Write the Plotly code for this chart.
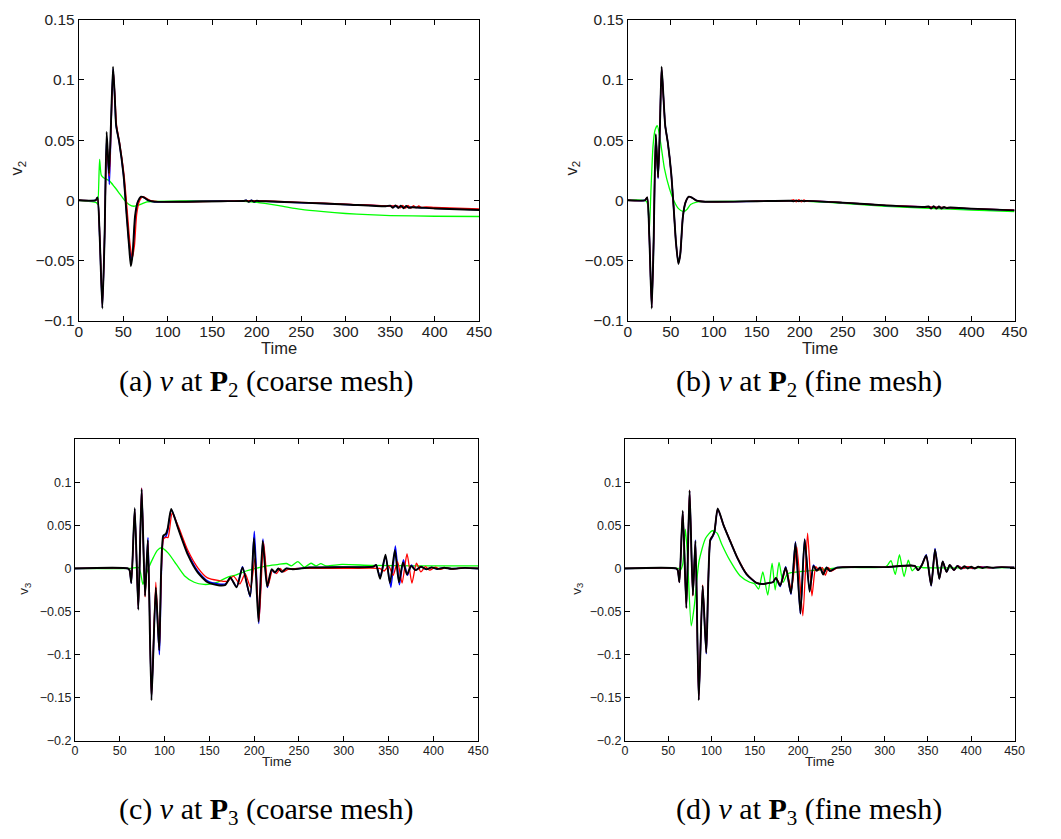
import plotly.graph_objects as go

# ---------------- data ----------------
# Panel (a): v at P2, coarse mesh
a_black_t = [0, 19, 21, 23.5, 26.5, 29, 31.3, 33.9, 36, 38.5, 40.5, 42, 45.5, 50.3, 53.9, 56.5, 58.5, 60.5, 63.1, 66, 70, 74, 78, 85, 120, 160, 185, 188, 191, 194, 197, 200, 203, 210, 250, 300, 345, 350, 353, 356, 359, 362, 365, 368, 371, 375, 400, 450]
a_black_v = [0, 0, 0.0024, -0.03, -0.09, -0.03, 0.0567, 0.0223, 0.06, 0.111, 0.085, 0.062, 0.048, 0.0209, -0.014, -0.038, -0.0548, -0.045, -0.014, -0.002, 0.003, 0.002, 0.0, -0.0012, -0.0012, -0.0008, -0.0006, -0.0002, -0.0012, -0.0002, -0.0012, -0.0004, -0.0008, -0.0008, -0.002, -0.0035, -0.005, -0.0045, -0.0062, -0.0044, -0.0064, -0.0046, -0.0066, -0.0048, -0.0062, -0.0058, -0.0068, -0.0081]
a_blue_t = [0, 19, 21, 23.5, 26.5, 29, 31.3, 34.3, 36, 38.5, 40.5, 42, 45.5, 50.3, 53.9, 56.5, 59, 61, 63.5, 66.5, 70.5, 74, 78, 85, 120, 160, 185, 188, 191, 194, 197, 200, 210, 250, 300, 350, 400, 450]
a_blue_v = [0, 0, 0.0022, -0.03, -0.089, -0.03, 0.052, 0.013, 0.055, 0.109, 0.085, 0.062, 0.048, 0.021, -0.012, -0.036, -0.05, -0.042, -0.014, -0.001, 0.003, 0.002, 0.0, -0.0012, -0.0012, -0.0006, -0.0006, 0.0, -0.0012, 0.0, -0.0012, -0.0004, -0.0008, -0.002, -0.0035, -0.005, -0.0066, -0.0078]
a_red_t = [0, 19, 21, 23.5, 26.5, 29, 31.5, 34.3, 36.2, 38.7, 40.7, 42.5, 46, 51, 55, 57.5, 60, 62.5, 65, 68, 72, 76, 80, 90, 150, 200, 250, 300, 350, 358, 361, 364, 367, 370, 373, 376, 379, 382, 385, 390, 400, 450]
a_red_v = [0, 0, 0.002, -0.028, -0.088, -0.03, 0.05, 0.02, 0.06, 0.108, 0.085, 0.062, 0.047, 0.02, -0.014, -0.036, -0.048, -0.038, -0.012, -0.001, 0.003, 0.0015, 0.0, -0.0012, -0.0009, -0.0004, -0.0018, -0.0032, -0.0048, -0.0046, -0.0064, -0.0042, -0.0066, -0.0042, -0.0066, -0.0044, -0.0064, -0.0048, -0.006, -0.0056, -0.006, -0.0072]
a_green_t = [0, 19.8, 21.2, 23.4, 25.2, 27.8, 34.4, 39.8, 45.3, 50.8, 56.4, 61.9, 69.2, 76.6, 85.8, 120, 180, 200, 225, 250, 275, 300, 325, 350, 400, 450]
a_green_v = [0, -0.002, -0.0035, 0.0339, 0.021, 0.0187, 0.0161, 0.0114, 0.006, 0.0005, -0.0035, -0.005, -0.0035, -0.0013, -0.001, -0.0006, -0.0008, -0.0018, -0.0045, -0.0076, -0.0095, -0.011, -0.012, -0.0127, -0.0133, -0.0135]

# Panel (b): v at P2, fine mesh
b_black_t = [0, 20, 22.5, 25, 27.8, 30, 32.5, 35.2, 37.3, 39.3, 41.5, 43.5, 46.5, 50.5, 53.5, 56, 58.8, 61, 64, 67, 71, 75, 80, 90, 150, 190, 193, 196, 199, 202, 205, 208, 250, 300, 345, 350, 353, 356, 359, 362, 365, 368, 371, 375, 400, 450]
b_black_v = [0, 0, 0.0024, -0.03, -0.09, -0.035, 0.055, 0.019, 0.06, 0.111, 0.085, 0.062, 0.048, 0.022, -0.008, -0.035, -0.053, -0.045, -0.014, -0.002, 0.003, 0.002, -0.0003, -0.0012, -0.0008, -0.0004, -0.0008, -0.0002, -0.0009, -0.0003, -0.0008, -0.0005, -0.002, -0.0043, -0.0056, -0.0052, -0.0068, -0.005, -0.007, -0.0052, -0.0068, -0.0055, -0.0065, -0.006, -0.007, -0.0084]
b_blue_t = [0, 20, 22.5, 25, 27.8, 30, 32.5, 35.2, 37.3, 39.3, 41.5, 43.5, 46.5, 50.5, 53.5, 56, 58.8, 61, 64, 67, 71, 75, 80, 90, 150, 200, 250, 300, 350, 400, 450]
b_blue_v = [0, 0, 0.0023, -0.03, -0.089, -0.035, 0.054, 0.018, 0.06, 0.11, 0.085, 0.062, 0.048, 0.022, -0.008, -0.035, -0.052, -0.045, -0.014, -0.002, 0.003, 0.002, -0.0003, -0.0012, -0.0008, -0.0005, -0.002, -0.0043, -0.0057, -0.007, -0.0083]
b_red_t = [0, 20, 22.5, 25, 27.8, 30, 32.5, 35.2, 37.3, 39.3, 41.5, 43.5, 46.5, 50.5, 53.5, 56, 58.8, 61, 64, 67, 71, 75, 80, 90, 150, 190, 193, 196, 199, 202, 205, 208, 212, 250, 300, 350, 400, 450]
b_red_v = [0, 0, 0.0023, -0.03, -0.089, -0.035, 0.054, 0.019, 0.06, 0.11, 0.085, 0.062, 0.048, 0.022, -0.008, -0.035, -0.052, -0.045, -0.014, -0.002, 0.003, 0.002, -0.0003, -0.0012, -0.0008, -0.0004, 0.0004, -0.0014, 0.0004, -0.0014, 0.0002, -0.001, -0.0006, -0.002, -0.0042, -0.0056, -0.0069, -0.0082]
b_green_t = [0, 21.7, 24.7, 27, 29.3, 31.5, 34.3, 38.1, 42.6, 48.3, 54, 59, 64.7, 69, 73, 80, 85, 150, 200, 250, 300, 350, 400, 450]
b_green_v = [0, -0.001, -0.028, 0.01, 0.045, 0.058, 0.062, 0.048, 0.0263, 0.01, -0.001, -0.007, -0.0095, -0.0075, -0.0035, -0.0015, -0.0012, -0.0008, -0.0008, -0.0025, -0.005, -0.0068, -0.0081, -0.0095]

# Panel (c): v at P3, coarse mesh
c_black_t = [0, 59, 61, 63, 66.8, 70.8, 74.5, 78.3, 81.4, 85.5, 90.3, 94.1, 98.6, 101.5, 103.5, 107.5, 115, 126, 137, 148, 160, 168, 173.5, 180.5, 187, 195.5, 199.8, 204.8, 209.5, 214.5, 219.5, 223.3, 227, 230.8, 236, 243, 262, 300, 333, 336, 340.5, 346.5, 351.5, 357, 361.5, 366, 370.5, 375, 380, 386, 392, 398, 404, 412, 420, 435, 450]
c_black_v = [0, 0, -0.002, -0.017, 0.070, -0.048, 0.092, -0.032, 0.033, -0.153, -0.022, -0.095, 0.038, 0.04, 0.046, 0.069, 0.047, 0.016, -0.0046, -0.016, -0.0195, -0.019, -0.0105, -0.022, 0.001, -0.032, 0.035, -0.062, 0.032, -0.021, -0.001, -0.0046, 0.0, -0.004, 0.0, -0.001, 0.001, 0.0015, 0.002, 0.004, -0.012, 0.016, -0.017, 0.021, -0.016, 0.007, -0.007, 0.003, -0.002, 0.002, -0.001, 0.0012, -0.0006, 0.0008, -0.0004, 0.0006, 0.0]
c_blue_t = [0, 59, 61, 63, 66.8, 70.8, 74.5, 78.3, 81.6, 85.5, 90.3, 94.3, 98.8, 101.5, 103.5, 107.7, 115, 126, 137, 148, 160, 168, 173.5, 180.5, 187, 195.5, 200.2, 205.2, 209.8, 214.8, 219.5, 223.3, 227, 230.8, 236, 243, 262, 300, 333, 336, 340.5, 346.5, 352.5, 357.5, 362, 366.5, 371, 375.5, 380, 386, 392, 398, 404, 412, 420, 435, 450]
c_blue_v = [0, 0, -0.002, -0.017, 0.069, -0.047, 0.093, -0.031, 0.036, -0.15, -0.024, -0.1, 0.035, 0.037, 0.043, 0.068, 0.048, 0.018, -0.003, -0.0145, -0.018, -0.018, -0.011, -0.021, 0.002, -0.033, 0.043, -0.064, 0.034, -0.022, -0.002, -0.005, 0.0, -0.004, 0.0, -0.0005, 0.001, 0.0015, 0.002, 0.004, -0.01, 0.014, -0.022, 0.026, -0.019, 0.01, -0.008, 0.004, -0.002, 0.002, -0.001, 0.0012, -0.0006, 0.0008, -0.0004, 0.0006, 0.0]
c_red_t = [0, 59, 61, 63, 66.8, 70.8, 74.5, 78.3, 81.6, 85.5, 90.3, 94.2, 98.8, 101.5, 104, 108.5, 115, 126, 137, 148, 160, 170, 177, 184, 190, 196, 201, 205.5, 210.5, 215.5, 220.5, 225, 229, 233, 238, 250, 300, 340, 345, 350, 355, 360, 365, 370.5, 376, 381, 386, 391, 396, 402, 408, 414, 420, 430, 450]
c_red_v = [0, 0, -0.002, -0.016, 0.068, -0.047, 0.093, -0.033, 0.03, -0.15, -0.016, -0.093, 0.034, 0.036, 0.036, 0.064, 0.05, 0.021, 0.001, -0.011, -0.014, -0.015, -0.009, -0.018, -0.006, -0.022, 0.012, -0.06, 0.03, -0.02, -0.002, -0.006, 0.0, -0.004, -0.001, 0.0, 0.0, 0.0, -0.003, 0.003, -0.008, 0.008, -0.017, 0.017, -0.017, 0.006, -0.004, 0.002, -0.002, 0.0015, -0.0012, 0.001, -0.0008, 0.0005, 0.0]
c_green_t = [0, 62, 71.2, 73.5, 75.9, 78.5, 82, 87.5, 92, 96.6, 103.9, 113, 122.2, 133.1, 144.1, 152, 160, 170, 180, 192, 205, 214, 226, 236, 241.5, 248.8, 256, 263.4, 268.9, 274.4, 280, 298, 330, 380, 450]
c_green_v = [0, 0, 0.001, -0.006, -0.0186, -0.01, 0.0, 0.0125, 0.021, 0.024, 0.018, 0.005, -0.0084, -0.016, -0.0186, -0.018, -0.0155, -0.0103, -0.0075, -0.0027, 0.0008, 0.003, 0.0045, 0.0057, 0.003, 0.008, 0.0015, 0.006, 0.003, 0.0055, 0.003, 0.0046, 0.0035, 0.003, 0.003]

# Panel (d): v at P3, fine mesh
d_black_t = [0, 59, 61, 63, 66.8, 71, 74.7, 78.5, 81.5, 85.3, 89.8, 94, 98.6, 101.5, 103.5, 107.2, 114, 121.6, 130, 140.4, 151.8, 160, 166.9, 171, 174.4, 179.3, 185.7, 191.8, 197, 202.7, 207.6, 213.3, 217.8, 221.6, 225.4, 229, 233, 236.7, 245, 300, 334.8, 338.6, 343, 348, 353.7, 358.2, 363.1, 367, 371.5, 375.2, 380, 384, 388, 392, 396, 400, 404, 408, 413, 418, 425, 435, 450]
d_black_v = [0, 0, -0.002, -0.016, 0.067, -0.046, 0.0905, -0.031, 0.032, -0.153, -0.02, -0.098, 0.033, 0.038, 0.043, 0.0696, 0.05, 0.0316, 0.012, -0.0065, -0.0167, -0.018, -0.0167, -0.016, -0.011, -0.02, 0.001, -0.029, 0.0297, -0.052, 0.0335, -0.027, 0.003, -0.0027, 0.001, -0.007, 0.001, -0.003, 0.001, 0.0015, 0.003, -0.002, 0.004, 0.0152, -0.0198, 0.022, -0.012, 0.008, -0.004, 0.004, -0.002, 0.003, -0.0005, 0.0025, 0.0, 0.002, 0.0, 0.002, 0.0005, 0.0018, 0.0008, 0.0015, 0.001]
d_blue_t = [0, 59, 61, 63, 66.8, 71, 74.7, 78.5, 81.5, 85.3, 89.8, 94, 98.6, 101.5, 103.5, 107.2, 114, 121.6, 130, 140.4, 151.8, 160, 166.9, 171, 174.4, 179.3, 185.7, 191.8, 197, 202.7, 207.6, 213.3, 217.8, 221.6, 225.4, 229, 233, 236.7, 245, 300, 334.8, 338.6, 343, 348, 353.7, 358.2, 363.1, 367, 371.5, 375.2, 380, 384, 390, 396, 402, 410, 420, 435, 450]
d_blue_v = [0, 0, -0.002, -0.016, 0.066, -0.045, 0.09, -0.031, 0.033, -0.152, -0.021, -0.099, 0.032, 0.037, 0.042, 0.069, 0.05, 0.0316, 0.012, -0.0065, -0.0167, -0.018, -0.0167, -0.016, -0.011, -0.021, 0.002, -0.03, 0.031, -0.053, 0.034, -0.026, 0.004, -0.0025, 0.001, -0.0065, 0.001, -0.003, 0.001, 0.0015, 0.003, -0.002, 0.004, 0.016, -0.02, 0.023, -0.012, 0.008, -0.004, 0.004, -0.002, 0.003, 0.0, 0.002, 0.0, 0.0018, 0.0008, 0.0015, 0.001]
d_red_t = [0, 59, 61, 63, 66.8, 71, 74.7, 78.5, 81.5, 85.3, 89.8, 94, 98.6, 101.5, 103.5, 107.2, 114, 121.6, 130, 140.4, 151.8, 160, 166.9, 171, 174.4, 179.8, 186, 192.3, 198.5, 205.5, 211, 216, 220.5, 224, 228, 231.5, 235, 238.5, 246, 300, 334.8, 338.6, 343, 348, 353.7, 358.2, 363.1, 367, 371.5, 375.2, 380, 384, 390, 396, 402, 410, 420, 435, 450]
d_red_v = [0, 0, -0.002, -0.016, 0.066, -0.046, 0.0905, -0.032, 0.031, -0.152, -0.019, -0.097, 0.033, 0.038, 0.043, 0.069, 0.05, 0.032, 0.0125, -0.006, -0.0165, -0.018, -0.0167, -0.016, -0.011, -0.019, 0.0, -0.025, 0.025, -0.055, 0.041, -0.032, 0.002, -0.002, 0.001, -0.008, 0.001, -0.003, 0.001, 0.0015, 0.003, -0.002, 0.004, 0.0145, -0.019, 0.021, -0.012, 0.008, -0.004, 0.004, -0.002, 0.003, 0.0, 0.002, 0.0, 0.0018, 0.0008, 0.0015, 0.001]
d_green_t = [0, 62, 64, 66.8, 69.8, 72, 76.6, 80, 85.7, 93.2, 100.8, 106.5, 112, 121.6, 132.9, 144.2, 150, 154.4, 159.3, 165, 170, 173.6, 178, 182.7, 188, 200, 220, 250, 300, 302.8, 307.3, 312.2, 317.1, 322.4, 327.3, 331.8, 336.7, 345, 400, 450]
d_green_v = [0, 0, -0.002, 0.005, 0.0456, 0.02, -0.0665, -0.045, 0.0087, 0.035, 0.0437, 0.041, 0.0278, 0.0087, -0.0084, -0.016, -0.018, -0.024, -0.004, -0.031, 0.006, -0.025, 0.007, -0.016, -0.006, -0.004, -0.002, 0.001, 0.0015, 0.003, 0.009, -0.007, 0.016, -0.0095, 0.0095, -0.0027, 0.002, 0.0008, 0.0008, 0.001]

x_ticks = [0, 50, 100, 150, 200, 250, 300, 350, 400, 450]
x_ticktext = ["0", "50", "100", "150", "200", "250", "300", "350", "400", "450"]
y_ticks_top = [0.15, 0.1, 0.05, 0, -0.05, -0.1]
y_ticktext_top = ["0.15", "0.1", "0.05", "0", "\u22120.05", "\u22120.1"]
y_ticks_bot = [0.1, 0.05, 0, -0.05, -0.1, -0.15, -0.2]
y_ticktext_bot = ["0.1", "0.05", "0", "\u22120.05", "\u22120.1", "\u22120.15", "\u22120.2"]

captions = [
    "(a) <i>v</i> at <b>P</b><sub>2</sub> (coarse mesh)",
    "(b) <i>v</i> at <b>P</b><sub>2</sub> (fine mesh)",
    "(c) <i>v</i> at <b>P</b><sub>3</sub> (coarse mesh)",
    "(d) <i>v</i> at <b>P</b><sub>3</sub> (fine mesh)",
]
y_titles = ["v<sub>2</sub>", "v<sub>2</sub>", "v<sub>3</sub>", "v<sub>3</sub>"]

# ---------------- figure ----------------
W, H = 1061, 839
fig = go.Figure()

panels = [
    dict(data=[(a_green_t, a_green_v), (a_blue_t, a_blue_v), (a_red_t, a_red_v), (a_black_t, a_black_v)],
         px=(76, 483), py=(11, 318), yr=[-0.1, 0.15], yt=y_ticks_top, ytt=y_ticktext_top, fs=15.5, ts=16.5,
         ytitle=(13, 162), xtitle=(279, 346), cap=(267, 382), xstand=-3),
    dict(data=[(b_green_t, b_green_v), (b_blue_t, b_blue_v), (b_red_t, b_red_v), (b_black_t, b_black_v)],
         px=(634, 1027), py=(11, 318), yr=[-0.1, 0.15], yt=y_ticks_top, ytt=y_ticktext_top, fs=15.5, ts=16.5,
         ytitle=(577, 162), xtitle=(829, 346), cap=(818, 382), xstand=-3),
    dict(data=[(c_green_t, c_green_v), (c_blue_t, c_blue_v), (c_red_t, c_red_v), (c_black_t, c_black_v)],
         px=(72, 482), py=(439, 747), yr=[-0.2, 0.15], yt=y_ticks_bot, ytt=y_ticktext_bot, fs=12.5, ts=13.5,
         ytitle=(20, 592), xtitle=(277, 768), cap=(267, 819), xstand=-2),
    dict(data=[(d_green_t, d_green_v), (d_blue_t, d_blue_v), (d_red_t, d_red_v), (d_black_t, d_black_v)],
         px=(631, 1027), py=(439, 747), yr=[-0.2, 0.15], yt=y_ticks_bot, ytt=y_ticktext_bot, fs=12.5, ts=13.5,
         ytitle=(582, 592), xtitle=(829, 768), cap=(818, 819), xstand=-2),
]

styles = [("#00ff00", 1.3), ("#0000ff", 1.5), ("#ff0000", 1.3), ("#000000", 1.9)]

annotations = []
for i, p in enumerate(panels):
    n = "" if i == 0 else str(i + 1)
    xa, ya = "x" + n, "y" + n
    for (t, v), (col, w) in zip(p["data"], styles):
        fig.add_trace(go.Scatter(x=t, y=v, mode="lines", xaxis=xa, yaxis=ya,
                                 line=dict(color=col, width=w, shape="spline", smoothing=0.6),
                                 showlegend=False, hoverinfo="skip"))
    common = dict(showline=True, linecolor="black", linewidth=1, mirror="ticks", ticks="inside",
                  ticklen=5, tickcolor="black", tickwidth=1, showgrid=False, zeroline=False,
                  tickfont=dict(family="Liberation Sans", size=p["fs"], color="#222222"), fixedrange=True)
    fig.layout["xaxis" + n] = dict(domain=[p["px"][0] / W, p["px"][1] / W], range=[0, 450],
                                   anchor=ya, tickvals=x_ticks, ticktext=x_ticktext,
                                   ticklabelstandoff=p["xstand"], **common)
    fig.layout["yaxis" + n] = dict(domain=[1 - p["py"][1] / H, 1 - p["py"][0] / H], range=p["yr"],
                                   anchor=xa, tickvals=p["yt"], ticktext=p["ytt"], **common)
    annotations.append(dict(text=y_titles[i], x=p["ytitle"][0] / W, y=1 - p["ytitle"][1] / H,
                            xref="paper", yref="paper", showarrow=False, textangle=-90,
                            xanchor="center", yanchor="middle",
                            font=dict(family="Liberation Sans", size=p["ts"], color="#222222")))
    annotations.append(dict(text="Time", x=p["xtitle"][0] / W, y=1 - p["xtitle"][1] / H,
                            xref="paper", yref="paper", showarrow=False,
                            xanchor="center", yanchor="middle",
                            font=dict(family="Liberation Sans", size=p["ts"], color="#222222")))
    annotations.append(dict(text=captions[i], x=p["cap"][0] / W, y=1 - p["cap"][1] / H,
                            xref="paper", yref="paper", showarrow=False,
                            xanchor="center", yanchor="middle",
                            font=dict(family="Liberation Serif", size=30, color="black")))

fig.update_layout(width=W, height=H, margin=dict(l=0, r=0, t=0, b=0),
                  paper_bgcolor="white", plot_bgcolor="white", annotations=annotations)

fig.write_html("out.html", config={"displayModeBar": False},
               post_script="document.body.style.margin='0';document.body.style.overflow='hidden';")
